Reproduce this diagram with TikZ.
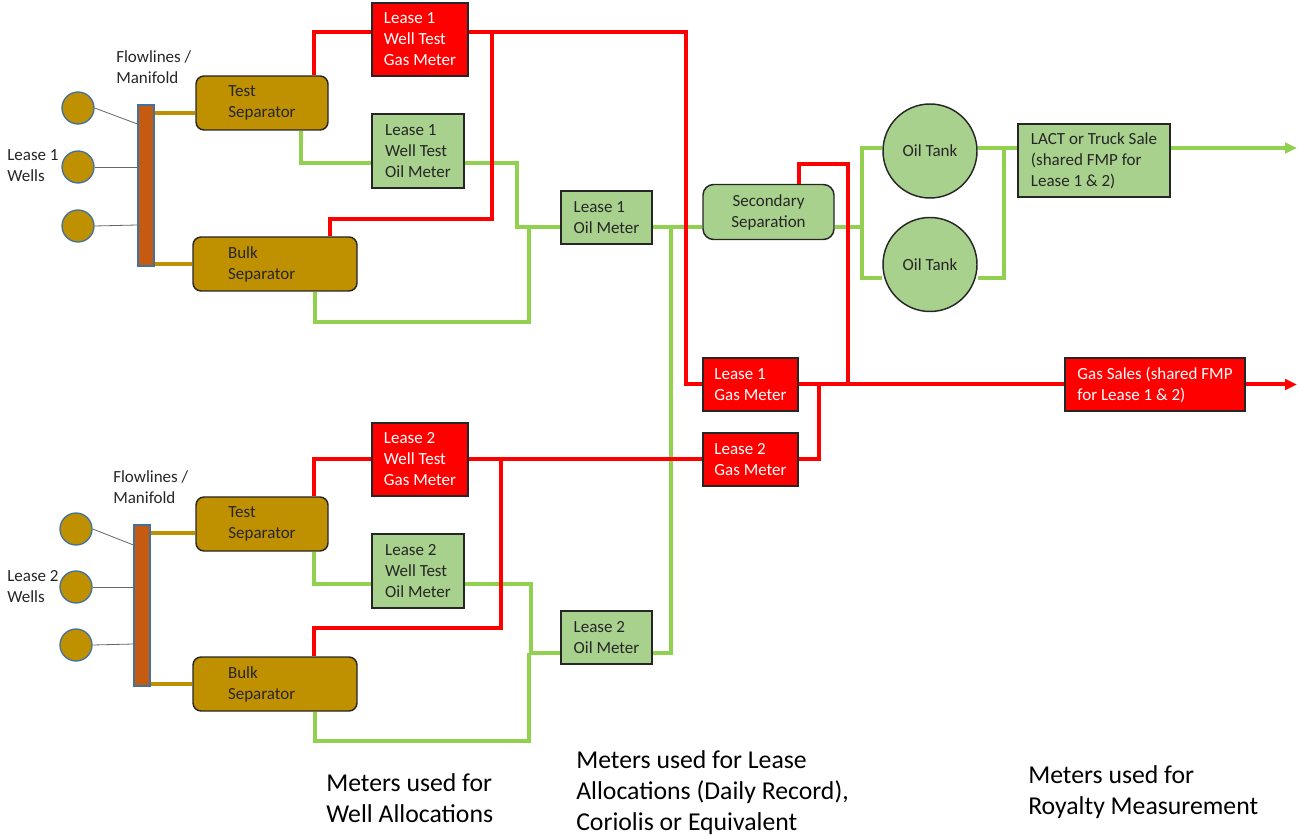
\documentclass[tikz,border=0pt]{standalone}
\usepackage{fontspec}
\setmainfont{Carlito}
\usetikzlibrary{arrows.meta}
\definecolor{gasred}{HTML}{FF0000}
\definecolor{oilgreen}{HTML}{92D050}
\definecolor{lightgreen}{HTML}{A9D18E}
\definecolor{gold}{HTML}{BF9000}
\definecolor{rust}{HTML}{C55A11}
\definecolor{wellblue}{HTML}{41719C}
\definecolor{boxline}{HTML}{262626}
\definecolor{txt}{HTML}{262626}
\newcommand{\boxfont}{\fontsize{12.75pt}{15.75pt}\selectfont}
\newcommand{\bigfont}{\fontsize{19.3pt}{23.25pt}\selectfont}
\tikzset{
  base/.style={draw=boxline, line width=1.1pt, inner xsep=2pt, inner ysep=0pt, align=left, font=\boxfont, text=txt},
  redbox/.style={base, fill=gasred, text=white},
  greenbox/.style={base, fill=lightgreen},
  sepbox/.style={base, fill=gold, rounded corners=6pt},
  wellc/.style={circle, draw=wellblue, line width=1pt, fill=gold, minimum size=24pt, inner sep=0pt},
  tankc/.style={circle, draw=boxline, line width=1.1pt, fill=lightgreen, minimum size=70.5pt, inner sep=0pt, font=\boxfont, text=txt},
  manbar/.style={draw=wellblue, line width=0.8pt, fill=rust, minimum width=12pt, minimum height=120.75pt, inner sep=0pt},
  lbl/.style={font=\boxfont, text=txt, align=left, inner sep=0pt},
  big/.style={font=\bigfont, text=black, align=left, inner sep=0pt},
  gasl/.style={draw=gasred, line width=3pt},
  oill/.style={draw=oilgreen, line width=3pt},
  feed/.style={draw=gold, line width=3pt},
  thin/.style={draw=gray!80!black, line width=0.6pt},
}
\begin{document}
\begin{tikzpicture}[x=0.75pt,y=-0.75pt]
\useasboundingbox (0,0) rectangle (1299,837);

% ---------------- Lease 1 ----------------
\node[wellc] (w11) at (78,108) {};
\node[wellc] (w12) at (78,167) {};
\node[wellc] (w13) at (78,226) {};
\node[manbar] (bar1) at (146,185.5) {};
\node[lbl, anchor=west] (fl1) at (116,67) {Flowlines /\\Manifold};
\node[lbl, anchor=west] (lw1) at (7,165.5) {Lease 1\\Wells};

\node[sepbox, minimum width=99pt, minimum height=40.5pt] (ts1) at (262,103) {Test\\Separator};
\node[sepbox, minimum width=123pt, minimum height=40.5pt, text width=70.5pt, inner xsep=26.25pt] (bs1) at (275,264) {Bulk\\Separator};
\node[redbox, minimum width=72pt, minimum height=54.75pt] (g1wt) at (420,39.5) {Lease 1\\Well Test\\Gas Meter};
\node[greenbox, minimum width=69pt, minimum height=55.5pt] (o1wt) at (418,151) {Lease 1\\Well Test\\Oil Meter};
\node[greenbox, minimum width=68.25pt, minimum height=39.75pt] (om1) at (606.5,217.5) {Lease 1\\Oil Meter};

% ---------------- Lease 2 ----------------
\node[wellc] (w21) at (76,529) {};
\node[wellc] (w22) at (76,587) {};
\node[wellc] (w23) at (76,645) {};
\node[manbar] (bar2) at (142,605.5) {};
\node[lbl, anchor=west] (fl2) at (113,487.5) {Flowlines /\\Manifold};
\node[lbl, anchor=west] (lw2) at (7,586.5) {Lease 2\\Wells};

\node[sepbox, minimum width=99pt, minimum height=40.5pt] (ts2) at (262,524) {Test\\Separator};
\node[sepbox, minimum width=123pt, minimum height=40.5pt, text width=70.5pt, inner xsep=26.25pt] (bs2) at (275,684) {Bulk\\Separator};
\node[redbox, minimum width=72pt, minimum height=54.75pt] (g2wt) at (420,459.5) {Lease 2\\Well Test\\Gas Meter};
\node[greenbox, minimum width=69pt, minimum height=55.5pt] (o2wt) at (418,571) {Lease 2\\Well Test\\Oil Meter};
\node[greenbox, minimum width=68.25pt, minimum height=39.75pt] (om2) at (606.5,637.5) {Lease 2\\Oil Meter};

% ---------------- Shared ----------------
\node[greenbox, rounded corners=8pt, align=center, minimum width=98.25pt, minimum height=41.25pt] (ss) at (768.5,212) {Secondary\\Separation};
\node[tankc] (t1) at (930,151) {Oil Tank};
\node[tankc] (t2) at (930,264.5) {Oil Tank};
\node[greenbox, minimum width=114pt, minimum height=54.75pt] (lact) at (1094,160.5) {LACT or Truck Sale\\(shared FMP for\\Lease 1 \& 2)};
\node[redbox, minimum width=71.25pt, minimum height=39.75pt] (gm1) at (750.5,384.5) {Lease 1\\Gas Meter};
\node[redbox, minimum width=71.25pt, minimum height=39.75pt] (gm2) at (750.5,459.5) {Lease 2\\Gas Meter};
\node[redbox, minimum width=135pt, minimum height=39.75pt] (gs) at (1155,384.5) {Gas Sales (shared FMP\\for Lease 1 \& 2)};

% bottom captions
\node[big, anchor=west] (c1) at (326,798.5) {Meters used for\\Well Allocations};
\node[big, anchor=west] (c2) at (576,792.5) {Meters used for Lease\\Allocations (Daily Record),\\Coriolis or Equivalent};
\node[big, anchor=west] (c3) at (1028,792.5) {Meters used for\\Royalty Measurement};

% ---------------- coordinates ----------------
\coordinate (a1) at (314,32);
\coordinate (a2) at (686,32);
\coordinate (a3) at (492,32);
\coordinate (a4) at (330,219);
\coordinate (a5) at (799,164);
\coordinate (a6) at (848,384.5);
\coordinate (a7) at (819,384.5);
\coordinate (gasend) at (1297,384.5);
\coordinate (b1) at (314,459.5);
\coordinate (b2) at (501,459.5);
\coordinate (b3) at (314,628);
\coordinate (o1) at (301,163);
\coordinate (o2) at (517,163);
\coordinate (o3) at (315,322);
\coordinate (o4) at (529,322);
\coordinate (o5) at (671,653);
\coordinate (o6) at (862,227);
\coordinate (o7) at (1004,278);
\coordinate (oilend) at (1297,148);
\coordinate (p1) at (314,584);
\coordinate (p2) at (531,584);
\coordinate (p3) at (315,741);
\coordinate (p4) at (529,741);

% ---------------- thin well lines ----------------
\draw[thin] (w11.east) -- (bar1.west |- 0,124);
\draw[thin] (w12.east) -- (bar1.west |- w12);
\draw[thin] (w13.east) -- (bar1.west |- 0,225);
\draw[thin] (w21.east) -- (bar2.west |- 0,545);
\draw[thin] (w22.east) -- (bar2.west |- w22);
\draw[thin] (w23.east) -- (bar2.west |- 0,644);

% ---------------- feed lines ----------------
\draw[feed] (bar1.east |- 0,113) -- (ts1.west |- 0,113);
\draw[feed] (bar1.east |- 0,264) -- (bs1.west);
\draw[feed] (bar2.east |- 0,533) -- (ts2.west |- 0,533);
\draw[feed] (bar2.east |- 0,684) -- (bs2.west);

% ---------------- oil lines ----------------
\draw[oill] (ts1.south -| o1) |- (o1wt.west |- o1);
\draw[oill] (o1wt.east |- o2) -- (o2) |- (om1.west |- o6);
\draw[oill] (bs1.south -| o3) -- (o3) -- (o4) -- (o4 |- o6);
\draw[oill] (om1.east |- o6) -- (ss.west |- o6);
\draw[oill] (om2.east |- o5) -- (o5) -- (o5 |- o6);
\draw[oill] (ts2.south -| p1) |- (o2wt.west |- p1);
\draw[oill] (o2wt.east |- p2) -- (p2) |- (om2.west |- o5);
\draw[oill] (bs2.south -| p3) -- (p3) -- (p4) -- (p4 |- o5);
\draw[oill] (ss.east |- o6) -- (o6) |- (t1.west |- oilend);
\draw[oill] (o6) |- (t2.west |- o7);
\draw[oill] (t1.east |- oilend) -- (lact.west |- oilend);
\draw[oill] (t2.east |- o7) -- (o7) -- (o7 |- oilend);
\draw[oill, -{Triangle[length=9pt,width=8pt]}] (lact.east |- oilend) -- (oilend);

% ---------------- gas lines ----------------
\draw[gasl] (ts1.north -| a1) |- (g1wt.west |- a1);
\draw[gasl] (g1wt.east |- a1) -- (a2) |- (gm1.west);
\draw[gasl] (bs1.north -| a4) |- (a3 |- a4) -- (a3);
\draw[gasl] (gm1.east) -- (gs.west);
\draw[gasl, -{Triangle[length=9pt,width=8pt]}] (gs.east) -- (gasend);
\draw[gasl] (ss.north -| a5) |- (a6 |- a5) -- (a6);
\draw[gasl] (gm2.east) -| (a7);
\draw[gasl] (ts2.north -| b1) -- (b1) -- (g2wt.west);
\draw[gasl] (g2wt.east) -- (gm2.west);
\draw[gasl] (bs2.north -| b3) -- (b3) -| (b2);
\end{tikzpicture}
\end{document}
